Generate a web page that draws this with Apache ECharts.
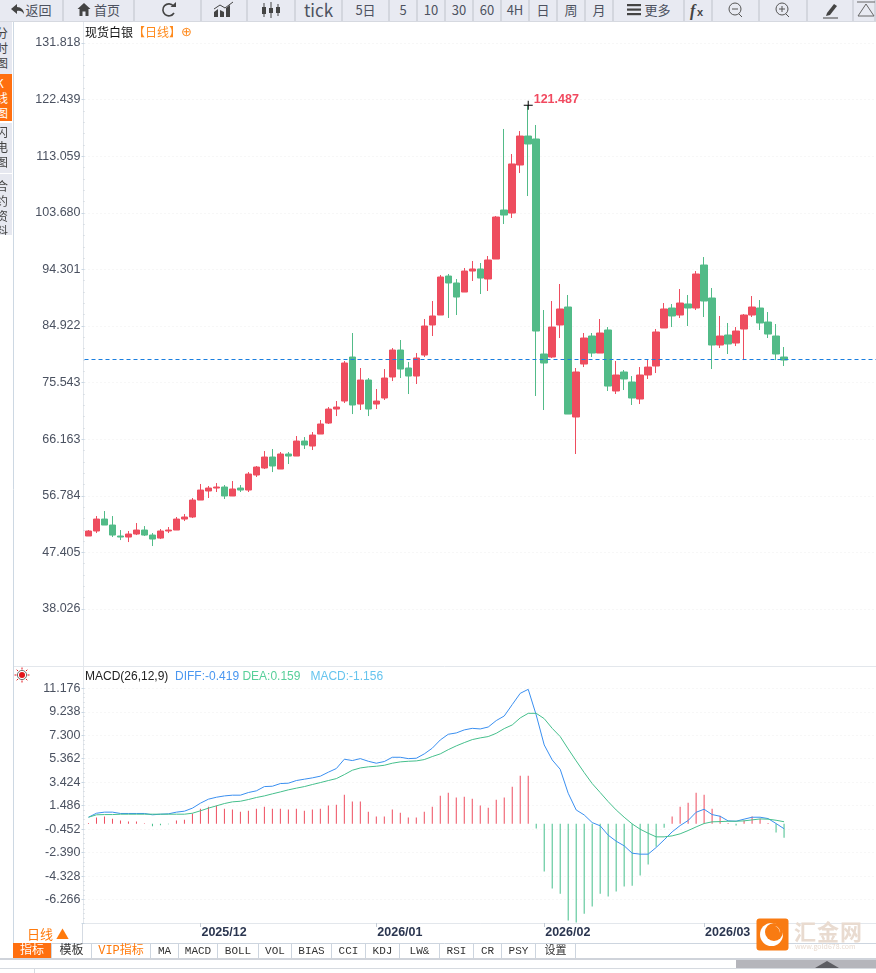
<!DOCTYPE html>
<html>
<head>
<meta charset="utf-8">
<title>现货白银 日线</title>
<script src="https://cdn.jsdelivr.net/npm/echarts@6/dist/echarts.min.js"></script>
<style>
  html, body { margin: 0; padding: 0; background: #fff; overflow: hidden; }
  body { width: 876px; height: 973px; position: relative; font-family: "Noto Sans CJK SC", sans-serif; }
  #chart { position: absolute; left: 0; top: 0; width: 876px; height: 973px; }
  .abs { position: absolute; box-sizing: border-box; }
  #bar { left: 0; top: 0; width: 876px; height: 22px; background: #e8eaf2; border-bottom: 1px solid #d6d9e0; }
  .btn { top: 0; height: 21px; line-height: 19px; text-align: center; font-size: 13px; color: #4d5260; border-right: 2px solid #d3d6de; white-space: nowrap; }
  .btn svg { vertical-align: top; }
  .side { left: 0; width: 12px; overflow: hidden; font-size: 12px; line-height: 15px; background: #e6e8f0; color: #444; }
  .side span { position: relative; left: -4px; display: block; }
  .tab { top: 943px; height: 16px; line-height: 17px; text-align: center; font-size: 11px; color: #333; border-right: 1px solid #cdd5df; white-space: nowrap; font-family: "Liberation Mono", "Noto Sans CJK SC", monospace; }
</style>
</head>
<body>
<div id="chart"></div>
<div class="abs" id="bar"></div>
<div id="side"></div>
<div id="tabs"></div>
<svg class="abs" style="left:14px;top:667px" width="16" height="16" viewBox="0 0 16 16">
  <circle cx="8" cy="8" r="3" fill="#e3141c"/><circle cx="8" cy="8" r="4.6" fill="none" stroke="#333" stroke-width="0.7"/>
  <path d="M8 0.5V2.5M8 13.5V15.5M0.5 8H2.5M13.5 8H15.5M2.7 2.7L4 4M12 12L13.3 13.3M2.7 13.3L4 12M12 4L13.3 2.7" stroke="#e3141c" stroke-width="1"/>
</svg>
<div class="abs" style="left:14px;top:924px;width:69px;height:19px;line-height:19px;text-align:center;color:#ff7a0c;font-size:13px;border-right:1px solid #d5dbe3;">日线 ▲</div>
<svg class="abs" style="left:756px;top:918px" width="33" height="33" viewBox="0 0 33 33">
  <rect x="0.5" y="0.5" width="32" height="32" rx="3" fill="#f97b12"/>
  <circle cx="15.5" cy="16.5" r="11.5" fill="#fff"/><circle cx="18" cy="14" r="9" fill="#f97b12"/>
  <path d="M19 8A6 6 0 0 1 24 15A8 8 0 0 0 19 8Z" fill="#fff"/>
</svg>
<div class="abs" style="left:794px;top:917px;width:70px;font-size:22px;line-height:26px;letter-spacing:1px;color:#e9dbd0;font-weight:700;white-space:nowrap;">汇金网</div>
<div class="abs" style="left:795px;top:942px;font-size:7px;line-height:8px;color:#e9dbd0;white-space:nowrap;">www.gold678.com</div>
<div class="abs" style="left:0;top:958px;width:876px;height:2px;background:#cfd3da;"></div>
<div class="abs" style="left:736px;top:960px;width:140px;height:8px;background:#b5b5bb;"></div>
<div class="abs" style="left:815px;top:961px;width:0;height:0;border-left:12px solid transparent;border-right:12px solid transparent;border-bottom:7px solid #5d5d62;"></div>
<div class="abs" style="left:0;top:968px;width:876px;height:1px;background:#d6dae0;"></div>
<div class="abs" style="left:34px;top:968px;width:1px;height:5px;background:#d6dae0;"></div>
<script>
var dates = [
  '2025/11/11','2025/11/12','2025/11/13','2025/11/14','2025/11/17','2025/11/18','2025/11/19','2025/11/20','2025/11/21','2025/11/24',
  '2025/11/25','2025/11/26','2025/11/27','2025/11/28','2025/12/01','2025/12/02','2025/12/03','2025/12/04','2025/12/05','2025/12/08',
  '2025/12/09','2025/12/10','2025/12/11','2025/12/12','2025/12/15','2025/12/16','2025/12/17','2025/12/18','2025/12/19','2025/12/22',
  '2025/12/23','2025/12/24','2025/12/26','2025/12/29','2025/12/30','2025/12/31','2026/01/02','2026/01/05','2026/01/06','2026/01/07',
  '2026/01/08','2026/01/09','2026/01/12','2026/01/13','2026/01/14','2026/01/15','2026/01/16','2026/01/19','2026/01/20','2026/01/21',
  '2026/01/22','2026/01/23','2026/01/26','2026/01/27','2026/01/28','2026/01/29','2026/01/30','2026/02/02','2026/02/03','2026/02/04',
  '2026/02/05','2026/02/06','2026/02/09','2026/02/10','2026/02/11','2026/02/12','2026/02/13','2026/02/16','2026/02/17','2026/02/18',
  '2026/02/19','2026/02/20','2026/02/23','2026/02/24','2026/02/25','2026/02/26','2026/02/27','2026/03/02','2026/03/03','2026/03/04',
  '2026/03/05','2026/03/06','2026/03/09','2026/03/10','2026/03/11','2026/03/12','2026/03/13','2026/03/16'
]
// empty room right of the last candle
var emptySlots = ['','','','','','','','','','','']
var monthStarts = ['2025/12/01','2026/01/02','2026/02/02','2026/03/02']

var opens = [
  50.12,50.95,52.93,51.94,50.12,49.95,50.45,51.11,50.28,49.78,
  50.95,51.11,52.93,53.27,56.08,57.58,58.07,58.24,56.75,58.07,
  57.74,60.23,61.39,63.21,61.22,63.71,63.37,65.86,65.03,67.02,
  68.84,71.16,72.49,79.78,71.99,75.97,71.99,72.99,76.47,80.94,
  77.96,76.63,80.11,85.09,86.74,93.20,92.05,90.55,94.03,94.37,
  92.71,96.02,104.14,103.64,111.60,116.40,115.91,80.28,79.78,85.09,
  88.07,69.84,78.62,83.26,80.44,84.26,74.15,77.30,75.64,72.82,
  76.80,78.29,84.59,87.90,86.74,88.57,87.90,95.03,89.56,81.77,
  83.43,82.10,84.42,86.74,87.90,85.58,83.26,79.78
]
var closes = [
  50.95,52.93,51.94,50.28,49.95,50.45,51.11,50.28,49.62,50.95,
  51.11,52.93,53.27,56.08,57.74,58.07,58.24,56.75,57.91,57.74,
  60.39,61.55,63.21,61.72,63.71,63.37,65.86,65.20,66.85,68.68,
  71.16,71.49,78.79,71.83,75.97,71.16,72.49,76.30,80.94,77.79,
  76.63,79.62,84.92,86.58,93.04,92.05,89.72,94.03,94.37,92.87,
  95.86,102.98,103.31,111.77,116.40,115.08,84.09,78.79,84.75,87.74,
  70.33,77.30,82.93,80.44,83.76,74.97,76.80,76.14,72.99,76.80,
  78.12,83.93,87.74,86.58,88.73,87.90,93.54,89.06,81.77,83.26,
  81.94,84.09,86.74,88.07,85.42,83.59,80.28,79.28
]
var lows = [
  50.12,50.61,51.94,49.95,49.45,49.12,50.28,50.12,48.46,49.62,
  50.61,51.11,52.60,53.10,56.08,56.42,57.41,56.25,56.75,57.41,
  57.41,59.90,61.22,60.72,61.22,62.05,63.37,64.54,64.37,67.02,
  68.68,70.00,72.16,70.33,71.00,70.00,71.16,72.66,75.80,76.30,
  73.65,75.31,79.78,83.26,86.74,86.25,86.74,90.55,92.38,90.22,
  90.72,96.02,101.82,102.82,110.27,106.46,73.32,71.00,79.62,82.93,
  70.33,63.71,78.12,79.78,80.44,74.15,73.65,74.31,71.83,71.99,
  76.14,77.13,84.59,84.75,86.25,84.92,87.57,86.41,77.79,81.27,
  80.28,81.60,79.28,86.41,84.26,82.93,79.28,78.29
]
var highs = [
  51.11,53.43,54.26,53.43,51.11,50.95,52.27,51.77,50.61,51.28,
  51.61,53.27,53.76,56.42,58.74,58.41,58.90,58.57,59.23,58.57,
  60.72,61.72,64.20,64.54,64.04,64.04,66.69,66.52,67.35,69.34,
  71.49,72.49,79.12,83.76,77.96,76.30,74.48,77.79,81.27,82.60,
  78.95,80.44,86.08,89.06,93.37,93.54,92.71,94.53,95.69,95.36,
  96.52,103.15,117.57,113.42,117.23,121.487,118.23,87.57,89.06,91.88,
  90.06,77.96,83.76,83.76,86.08,84.75,79.12,77.63,76.63,78.12,
  79.45,84.42,88.73,88.57,91.05,90.06,94.03,96.35,91.22,86.58,
  85.42,84.75,86.91,89.89,89.23,87.24,85.25,81.44
]
var lastPrice = 79.39
var highest = 121.487
var highestIndex = 55

var diffLine = [
  0.53,0.86,0.95,0.95,0.84,0.84,0.84,0.84,0.73,0.78,
  0.81,0.95,1.03,1.28,1.69,2.02,2.18,2.29,2.35,2.35,
  2.57,2.71,3.06,3.09,3.31,3.34,3.56,3.67,3.78,3.92,
  4.25,4.55,5.32,5.21,5.37,5.15,4.99,5.13,5.48,5.48,
  5.37,5.40,5.76,6.23,6.91,7.38,7.49,7.74,7.87,7.82,
  7.98,8.51,8.89,9.83,10.76,11.09,8.97,6.50,5.26,4.49,
  2.51,1.13,0.72,0.09,-0.18,-0.95,-1.45,-1.83,-2.44,-2.52,
  -2.52,-1.97,-1.34,-0.68,-0.16,0.26,0.94,1.19,0.75,0.61,
  0.23,0.20,0.37,0.53,0.53,0.42,0.01,-0.419
]
var deaLine = [
  0.53,0.73,0.75,0.75,0.78,0.78,0.78,0.78,0.78,0.78,
  0.78,0.78,0.78,0.86,1.06,1.28,1.47,1.66,1.80,1.85,
  1.99,2.16,2.29,2.46,2.62,2.79,2.93,3.06,3.23,3.39,
  3.56,3.72,4.05,4.41,4.60,4.69,4.74,4.82,4.99,5.10,
  5.15,5.18,5.29,5.54,5.76,6.11,6.42,6.69,6.94,7.08,
  7.19,7.46,7.85,8.15,8.73,9.11,9.11,8.67,7.87,7.19,
  6.17,5.18,4.22,3.31,2.57,1.82,1.13,0.53,-0.02,-0.46,
  -0.79,-1.09,-1.09,-1.01,-0.84,-0.57,-0.27,0.01,0.15,0.17,
  0.20,0.20,0.23,0.31,0.39,0.37,0.28,0.159
]
var macdBars = [
  0.05,0.50,0.58,0.41,0.25,0.17,0.17,0.03,-0.22,-0.14,
  -0.06,0.25,0.33,0.83,1.24,1.40,1.49,1.24,1.16,0.99,
  1.07,1.24,1.40,1.24,1.24,1.16,1.24,1.07,1.16,1.24,
  1.49,1.57,2.39,1.82,1.82,0.99,0.58,0.58,1.16,0.91,
  0.50,0.50,0.99,1.40,2.31,2.56,2.15,2.23,2.06,1.49,
  1.32,1.98,2.15,3.05,3.96,3.96,-0.41,-3.96,-5.36,-5.78,
  -8.00,-8.17,-7.43,-6.85,-5.78,-6.02,-5.61,-5.20,-5.12,-4.29,
  -3.38,-1.90,-0.33,0.58,1.40,1.73,2.56,2.39,1.24,0.66,
  0.05,-0.16,0.25,0.58,0.41,0.05,-0.74,-1.156
]

var priceTicks = ['38.026','47.405','56.784','66.163','75.543','84.922','94.301','103.680','113.059','122.439','131.818']
var macdTicks = ['','-6.266','-4.328','-2.390','-0.452','1.486','3.424','5.362','7.300','9.238','11.176']

var toolButtons = [
  ['返回',0,64],['首页',64,71],['',135,67],['',202,46],['',248,48],['tick',296,47],['5日',343,47],['5',390,28],['10',418,28],
  ['30',446,28],['60',474,28],['4H',502,28],['日',530,28],['周',558,28],['月',586,28],['更多',614,71],['',685,28],['',713,47],
  ['',760,48],['',808,46],['',854,22]
]
var sideTabs = [['分<br>时<br>图',22,52,3,false],['K<br>线<br>图',74,47,1,true],['闪<br>电<br>图',123,50,1,false],['合<br>约<br>资<br>料',174,61,4,false]]
var indicatorTabs = [
  ['指标',13,39],['模板',52,40],['VIP指标',92,59],['MA',151,28],['MACD',179,39],['BOLL',218,41],['VOL',259,33],['BIAS',292,40],
  ['CCI',332,34],['KDJ',366,34],['LW&',400,40],['RSI',440,34],['CR',474,28],['PSY',502,34],['设置',536,40]
]

var icons = {
  2: '<path d="M17.5 6A6 6 0 1 0 18 13" fill="none" stroke="#444" stroke-width="1.6"/><path d="M14.5 7H20V2Z" fill="#444"/>',
  3: '<path d="M2 17V12L6 9V17M8 17V10L12 12V17M14 17V8L18 5V17" fill="#444"/><path d="M2 9L8 5L13 8L21 2" stroke="#444" fill="none"/>',
  4: '<path d="M5 3V17M12 2V18M19 4V16" stroke="#444"/><rect x="3" y="7" width="4" height="7" fill="#444"/><rect x="10" y="8" width="4" height="5" fill="#444"/><rect x="17" y="7" width="4" height="6" fill="#444"/>',
  16: '<text x="4" y="16" font-size="16" font-style="italic" font-weight="700" fill="#444" font-family="Liberation Serif">f</text><text x="11" y="16" font-size="11" font-weight="700" fill="#444" font-family="Liberation Sans">x</text>',
  17: '<circle cx="11" cy="9" r="6" fill="none" stroke="#555"/><path d="M8 9H14M15 14L18 17" stroke="#555"/>',
  18: '<circle cx="11" cy="9" r="6" fill="none" stroke="#555"/><path d="M8 9H14M11 6V12M15 14L18 17" stroke="#555"/>',
  19: '<path d="M9 13L16 4L19 6L12 15L8 16Z" fill="#444"/><path d="M5 18H20" stroke="#444"/>',
  20: '<path d="M3 2H21M4 16L12 4L20 16Z" stroke="#666" fill="none"/>'
}
var inlineIcons = {
  0: '<svg width="15" height="19"><path d="M7 4L1 9L7 14V11C10 10.500 12 11 14 14C14 10 11 7 7 7Z" fill="#444"/></svg>',
  1: '<svg width="14" height="19"><path d="M7 3L0.500 9H2.500V16H5.500V11.500H8.500V16H11.500V9H13.500Z" fill="#444"/></svg> ',
  15: '<svg width="15" height="19"><rect x="0" y="4" width="14" height="2.200" fill="#444"/><rect x="0" y="8.500" width="14" height="2.200" fill="#444"/><rect x="0" y="13" width="14" height="2.200" fill="#444"/></svg> '
}
var barEl = document.getElementById('bar')
toolButtons.forEach(function (b, i) {
  var inner = b[0]
  if (icons[i]) inner = '<svg width="24" height="20">' + icons[i] + '</svg>'
  if (inlineIcons[i]) inner = inlineIcons[i] + inner
  var style = 'left:' + b[1] + 'px;width:' + b[2] + 'px;' + (b[0] === 'tick' ? 'font-size:17px;' : '')
  barEl.insertAdjacentHTML('beforeend', '<div class="abs btn" style="' + style + '">' + inner + '</div>')
})
sideTabs.forEach(function (s) {
  var style = 'top:' + s[1] + 'px;height:' + s[2] + 'px;padding-top:' + s[3] + 'px;' + (s[4] ? 'background:#ff6f0f;color:#fff;' : '')
  document.getElementById('side').insertAdjacentHTML('beforeend', '<div class="abs side" style="' + style + '"><span>' + s[0] + '</span></div>')
})
indicatorTabs.forEach(function (t, i) {
  var style = 'left:' + t[1] + 'px;width:' + t[2] + 'px;'
  if (i === 0) style += 'background:#ff6f0f;color:#fff;font-size:12px;'
  if (i === 1) style += 'font-size:12px;'
  if (i === 2) style += 'color:#ff7a0c;font-size:12px;'
  document.getElementById('tabs').insertAdjacentHTML('beforeend', '<div class="abs tab" style="' + style + '">' + t[0] + '</div>')
})

var upColor = '#ee4d5f'
var downColor = '#52bb88'
var axisColor = '#e3e7ec'
var labelFont = '"Liberation Sans", Arial, sans-serif'

var candles = dates.map(function (d, i) {
  return [opens[i], closes[i], lows[i], highs[i]]
})
var categories = dates.concat(emptySlots)

function isMonthStart(i, name) {
  return monthStarts.indexOf(name) >= 0
}

function yAxisBase(gridIndex, min, max, interval, ticks) {
  return {
    type: 'value', gridIndex: gridIndex, min: min, max: max, interval: interval, scale: true,
    axisLine: { show: false },
    axisTick: { show: true, length: 3, lineStyle: { color: '#c9d6e2' } },
    minorTick: { show: true, splitNumber: 5, length: 1, lineStyle: { color: '#c9d0d8' } },
    axisLabel: {
      color: '#4a5160', fontSize: 12.5, fontFamily: labelFont, margin: 4, showMinLabel: true, showMaxLabel: true,
      formatter: function (v, i) { return ticks[i] }
    },
    splitLine: { show: true, lineStyle: { color: '#eeeeee', type: [1, 3] } }
  }
}

var chart = echarts.init(document.getElementById('chart'), null, { renderer: 'canvas' })
chart.setOption({
  animation: false,
  title: [
    {
      left: 85, top: 26, padding: 0,
      text: '{a|现货白银}{b|【日线】}{c|⊕}',
      textStyle: { fontWeight: 'normal', rich: {
        a: { fontSize: 12, color: '#111', fontWeight: 'normal', fontFamily: '"Noto Sans CJK SC"' },
        b: { fontSize: 12, color: '#ff8a1c', fontWeight: 'normal', fontFamily: '"Noto Sans CJK SC"' },
        c: { fontSize: 13, color: '#ff8a1c', fontWeight: 'normal', fontFamily: '"DejaVu Sans"' }
      } }
    },
    {
      left: 85, top: 671, padding: 0,
      text: '{a|MACD(26,12,9)}  {b|DIFF:-0.419} {c|DEA:0.159}   {d|MACD:-1.156}',
      textStyle: { fontWeight: 'normal', fontSize: 12, rich: {
        a: { fontSize: 12, color: '#222', fontWeight: 'normal', fontFamily: labelFont },
        b: { fontSize: 12, color: '#4a97f0', fontWeight: 'normal', fontFamily: labelFont },
        c: { fontSize: 12, color: '#58cf9a', fontWeight: 'normal', fontFamily: labelFont },
        d: { fontSize: 12, color: '#66c4ee', fontWeight: 'normal', fontFamily: labelFont }
      } }
    }
  ],
  grid: [
    { left: 84.5, top: 43, width: 792, height: 566 },
    { left: 84.5, top: 688.3, width: 792, height: 234.7 }
  ],
  xAxis: [
    {
      type: 'category', gridIndex: 0, data: categories, boundaryGap: true, show: false
    },
    {
      type: 'category', gridIndex: 1, data: categories, boundaryGap: true,
      axisLine: { show: true, onZero: false, lineStyle: { color: axisColor } },
      axisTick: { show: true, alignWithLabel: true, interval: isMonthStart, length: 4, lineStyle: { color: '#c4ccd6' } },
      axisLabel: {
        show: true, interval: isMonthStart, align: 'left', margin: 3, padding: [0, 0, 0, 1], color: '#2b3650', fontSize: 12.5, fontWeight: 'bold',
        fontFamily: labelFont,
        formatter: function (v) { return v.slice(0, 7) }
      }
    }
  ],
  yAxis: [
    yAxisBase(0, 38.026, 131.818, 9.3792, priceTicks),
    yAxisBase(1, -8.204, 11.176, 1.938, macdTicks)
  ],
  series: [
    {
      name: '现货白银', type: 'candlestick', xAxisIndex: 0, yAxisIndex: 0, data: candles, barWidth: 7,
      itemStyle: { color: upColor, color0: downColor, borderColor: upColor, borderColor0: downColor, borderWidth: 1 },
      markLine: {
        silent: true, symbol: 'none', animation: false, label: { show: false },
        lineStyle: { color: '#1a7fe0', type: [4, 3], width: 1 },
        data: [{ yAxis: lastPrice }]
      },
      markPoint: {
        silent: true, animation: false,
        symbol: 'path://M4,0h1v4h4v1h-4v4h-1v-4h-4v-1h4z', symbolSize: 9,
        itemStyle: { color: '#000' },
        label: {
          show: true, position: 'right', distance: 0, offset: [1, -6], color: '#f1495f', fontSize: 12.5, fontWeight: 'bold', fontFamily: labelFont,
          formatter: function () { return highest.toFixed(3) }
        },
        data: [{ coord: [dates[highestIndex], highest] }]
      }
    },
    {
      name: 'MACD', type: 'bar', xAxisIndex: 1, yAxisIndex: 1, data: macdBars, barWidth: 1,
      itemStyle: { color: function (p) { return p.value >= 0 ? upColor : '#45bf8c' } }
    },
    {
      name: 'DIFF', type: 'line', xAxisIndex: 1, yAxisIndex: 1, data: diffLine, symbol: 'none',
      lineStyle: { color: '#3a8ff0', width: 1 }
    },
    {
      name: 'DEA', type: 'line', xAxisIndex: 1, yAxisIndex: 1, data: deaLine, symbol: 'none',
      lineStyle: { color: '#45bf8c', width: 1 }
    }
  ],
  graphic: [
    { type: 'line', silent: true, shape: { x1: 83.5, y1: 21, x2: 83.5, y2: 923 }, style: { stroke: axisColor } },
    { type: 'line', silent: true, shape: { x1: 13, y1: 666.5, x2: 876, y2: 666.5 }, style: { stroke: axisColor } },
    { type: 'line', silent: true, shape: { x1: 13.5, y1: 21, x2: 13.5, y2: 958 }, style: { stroke: '#cdd8e3' } },
    { type: 'line', silent: true, shape: { x1: 13, y1: 943.5, x2: 876, y2: 943.5 }, style: { stroke: '#cdd5df' } }
  ]
})
</script>
</body>
</html>
